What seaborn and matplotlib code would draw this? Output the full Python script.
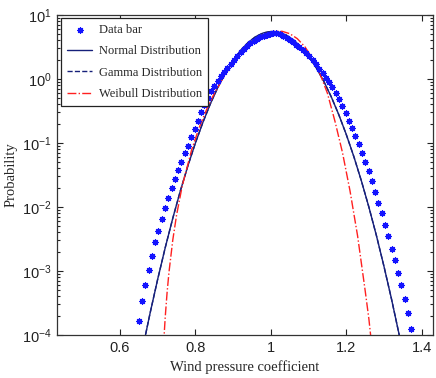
import matplotlib
matplotlib.use("Agg")
import matplotlib.pyplot as plt
import seaborn as sns
import pandas as pd
from matplotlib.ticker import FixedLocator, FixedFormatter, LogLocator, NullLocator

# ---- data ----
data_x = [0.650, 0.659, 0.667, 0.676, 0.685, 0.694, 0.702, 0.711, 0.720, 0.728,
          0.737, 0.746, 0.754, 0.763, 0.772, 0.781, 0.789, 0.798, 0.807, 0.815,
          0.824, 0.833, 0.841, 0.850, 0.859, 0.868, 0.876, 0.885, 0.894, 0.902,
          0.911, 0.920, 0.928, 0.937, 0.946, 0.955, 0.963, 0.972, 0.981, 0.989,
          0.998, 1.007, 1.015, 1.024, 1.033, 1.042, 1.050, 1.059, 1.068, 1.076,
          1.085, 1.094, 1.102, 1.111, 1.120, 1.129, 1.137, 1.146, 1.155, 1.163,
          1.172, 1.181, 1.189, 1.198, 1.207, 1.216, 1.224, 1.233, 1.242, 1.250,
          1.259, 1.268, 1.276, 1.285, 1.294, 1.303, 1.311, 1.320, 1.329, 1.337,
          1.346, 1.355, 1.363, 1.372]
data_y = [1.66e-4, 3.39e-4, 6.03e-4, 1.05e-3, 1.70e-3, 2.82e-3, 4.27e-3, 6.46e-3, 9.77e-3, 0.0138,
          0.0200, 0.0275, 0.0372, 0.0513, 0.0692, 0.0912, 0.123, 0.166, 0.224, 0.302,
          0.398, 0.513, 0.646, 0.776, 0.933, 1.096, 1.288, 1.479, 1.738, 1.995,
          2.291, 2.630, 2.951, 3.236, 3.589, 3.936, 4.266, 4.571, 4.732, 4.898,
          5.070, 5.188, 5.248, 5.012, 4.732, 4.416, 4.074, 3.758, 3.428, 3.126,
          2.818, 2.570, 2.291, 1.995, 1.718, 1.445, 1.230, 1.047, 0.912, 0.759,
          0.603, 0.490, 0.380, 0.295, 0.224, 0.174, 0.129, 0.0955, 0.0708, 0.0513,
          0.0363, 0.0257, 0.0174, 0.0117, 7.94e-3, 5.25e-3, 3.55e-3, 2.24e-3, 1.48e-3, 9.33e-4,
          6.03e-4, 3.63e-4, 2.24e-4, 1.26e-4]

curve_x = [0.66, 0.68, 0.70, 0.72, 0.74, 0.76, 0.78, 0.80, 0.82, 0.84,
           0.86, 0.88, 0.90, 0.92, 0.94, 0.96, 0.98, 1.00, 1.02, 1.04,
           1.06, 1.08, 1.10, 1.12, 1.14, 1.16, 1.18, 1.20, 1.22, 1.24,
           1.26, 1.28, 1.30, 1.32, 1.34, 1.36]
normal_y = [6.12e-5, 2.22e-4, 7.45e-4, 2.32e-3, 6.67e-3, 1.78e-2, 4.39e-2, 0.100, 0.211, 0.414,
            0.750, 1.257, 1.952, 2.805, 3.733, 4.597, 5.243, 5.534, 5.408, 4.890,
            4.095, 3.175, 2.279, 1.514, 0.931, 0.530, 0.279, 0.136, 0.0616, 0.0257,
            9.96e-3, 3.57e-3, 1.18e-3, 3.64e-4, 1.03e-4, 2.72e-5]
gamma_y = [6.12e-5, 2.22e-4, 7.45e-4, 2.32e-3, 6.67e-3, 1.78e-2, 4.39e-2, 0.100, 0.211, 0.414,
           0.750, 1.257, 1.952, 2.805, 3.733, 4.597, 5.243, 5.534, 5.408, 4.890,
           4.095, 3.175, 2.279, 1.514, 0.931, 0.530, 0.279, 0.136, 0.0616, 0.0257,
           9.96e-3, 3.57e-3, 1.18e-3, 3.64e-4, 1.03e-4, 2.72e-5]

weibull_x = [0.712, 0.716, 0.720, 0.725, 0.730, 0.740, 0.750, 0.765, 0.79, 0.81,
             0.83, 0.85, 0.87, 0.89, 0.91, 0.93, 0.95, 0.97, 0.99, 1.01,
             1.03, 1.05, 1.07, 1.09, 1.11, 1.13, 1.15, 1.17, 1.19, 1.21,
             1.23, 1.25, 1.26, 1.27]
weibull_y = [2.45e-5, 7.82e-5, 1.91e-4, 4.68e-4, 9.66e-4, 3.05e-3, 7.45e-3, 0.0213, 0.0782, 0.174,
             0.337, 0.593, 0.962, 1.464, 2.103, 2.861, 3.689, 4.498, 5.170, 5.562,
             5.559, 5.112, 4.276, 3.207, 2.128, 1.2245, 0.600, 0.219, 0.0708, 0.0178,
             3.55e-3, 5.0e-4, 1.78e-4, 5.0e-5]

x_ticks = [0.6, 0.8, 1.0, 1.2, 1.4]
x_tick_labels = ["0.6", "0.8", "1", "1.2", "1.4"]
labels = ["Data bar", "Normal Distribution", "Gamma Distribution", "Weibull Distribution"]

# ---- style ----
sns.set_style("ticks")
plt.rcParams["font.family"] = ["Liberation Sans", "DejaVu Sans"]
plt.rcParams["mathtext.fontset"] = "custom"
plt.rcParams["mathtext.rm"] = "Liberation Sans"
plt.rcParams["mathtext.it"] = "Liberation Sans:italic"

fig = plt.figure(figsize=(4.36, 3.78), dpi=100)
ax = fig.add_axes([57 / 436, 1 - 335 / 378, (433 - 57) / 436, (335 - 15) / 378])

df_data = pd.DataFrame({"x": data_x, "y": data_y})
df_norm = pd.DataFrame({"x": curve_x, "y": normal_y})
df_gam = pd.DataFrame({"x": curve_x, "y": gamma_y})
df_wei = pd.DataFrame({"x": weibull_x, "y": weibull_y})

navy = "#16207a"
sns.lineplot(data=df_norm, x="x", y="y", ax=ax, color=navy, lw=1.0, sort=False,
             estimator=None, label=labels[1], zorder=2)
sns.lineplot(data=df_gam, x="x", y="y", ax=ax, color=navy, lw=1.0, sort=False,
             estimator=None, label=labels[2], linestyle="--", zorder=2)
sns.lineplot(data=df_wei, x="x", y="y", ax=ax, color="#ff2020", lw=1.0, sort=False,
             estimator=None, label=labels[3], linestyle="-.", zorder=2)
sns.scatterplot(data=df_data, x="x", y="y", ax=ax, marker=(8, 2, 0), s=17,
                color="#1414ff", edgecolor="#1414ff", linewidth=0.9, label=labels[0], zorder=3)

ax.set_yscale("log")
ax.set_xlim(0.433, 1.43)
ax.set_ylim(1e-4, 10)

ax.xaxis.set_major_locator(FixedLocator(x_ticks))
ax.xaxis.set_major_formatter(FixedFormatter(x_tick_labels))
ax.xaxis.set_minor_locator(NullLocator())
ax.yaxis.set_major_locator(LogLocator(base=10, numticks=10))
ax.yaxis.set_minor_locator(LogLocator(base=10, subs=[2, 3, 4, 5, 6, 7, 8, 9], numticks=10))

ax.tick_params(axis="both", which="both", direction="in", top=True, right=True,
               labelsize=10.5, colors="#222222", width=0.8)
ax.tick_params(axis="both", which="major", length=4, pad=4)
ax.tick_params(axis="both", which="minor", length=2.5)
for s in ax.spines.values():
    s.set_linewidth(0.9)
    s.set_color("#333333")

ax.set_xlabel("Wind pressure coefficient", family=["Liberation Serif", "DejaVu Serif"],
              fontsize=10.5, labelpad=4)
ax.set_ylabel("Probability", family=["Liberation Serif", "DejaVu Serif"],
              fontsize=10.5, labelpad=3)

handles, labs = ax.get_legend_handles_labels()
order = [labs.index(l) for l in labels]
leg = ax.legend([handles[i] for i in order], [labs[i] for i in order],
                loc="upper left", bbox_to_anchor=(0.011, 0.992), borderaxespad=0,
                fancybox=False, edgecolor="#222222", framealpha=1,
                prop={"family": ["Liberation Serif", "DejaVu Serif"], "size": 9},
                handlelength=2.0, handletextpad=0.5, labelspacing=0.75,
                borderpad=0.5, markerscale=1.0)
leg.get_frame().set_linewidth(0.9)

fig.savefig("out.png", dpi=100)
